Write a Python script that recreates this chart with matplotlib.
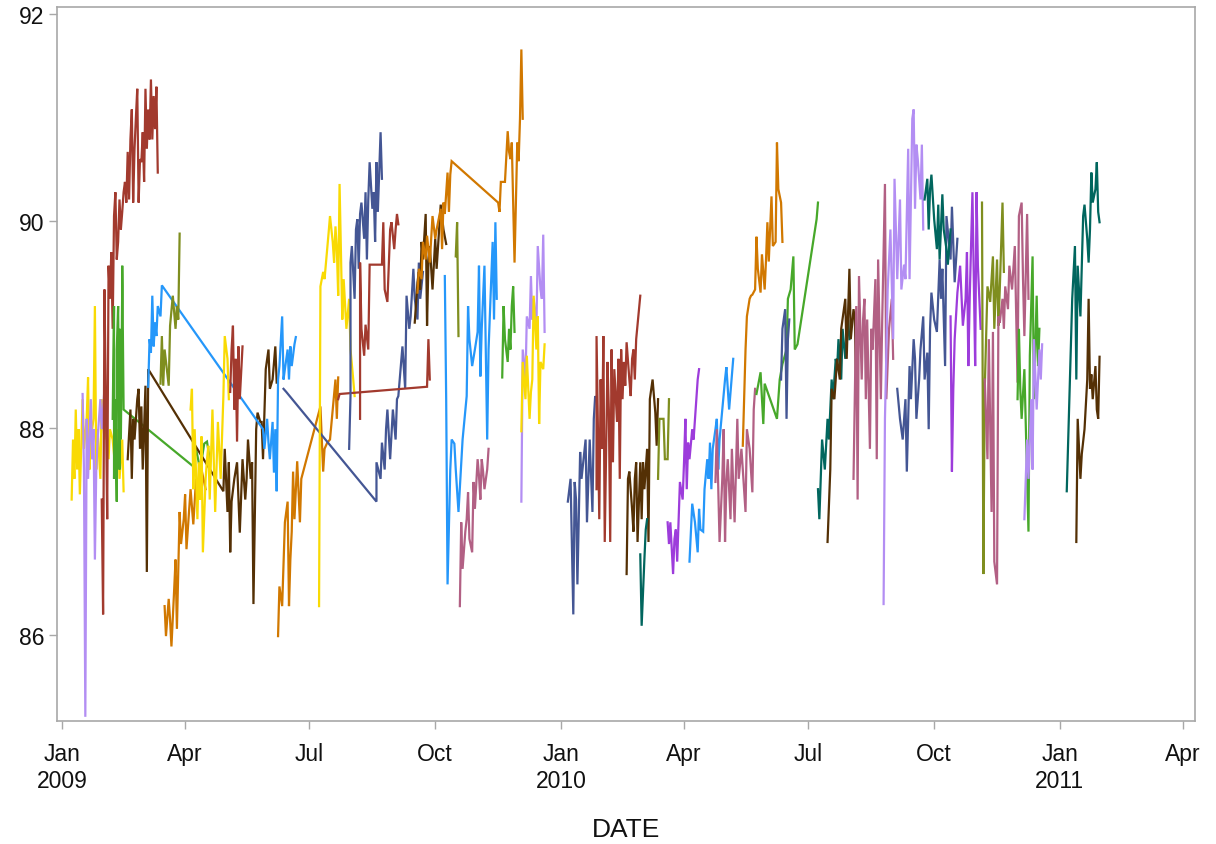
import matplotlib
matplotlib.use('Agg')
import matplotlib.pyplot as plt
import pandas as pd

plt.rcParams['font.family'] = ['Liberation Sans', 'DejaVu Sans']

ORIGIN = pd.Timestamp('2009-01-01')

# ---- palette ----
C = {'slate': '#445694', 'red': '#A23A2E', 'teal': '#01665E', 'brown': '#543005',
     'purple': '#9D3CDB', 'olive': '#7F8E1F', 'blue': '#2597FA', 'pink': '#B26084',
     'orange': '#D17800', 'green': '#47A82A', 'lav': '#B38EF3', 'yellow': '#F9DA04'}

# ---- data: days since 2009-01-01, values ----
yel1_d = [7,8,9,10,11,12,13,15,16,18,19,20,21,23,24,25,26,28,29,31,32,34,35,37,39,41,42,44,45]
yel1_v = [87.31,87.89,87.51,88.18,87.60,87.99,87.36,88.28,87.80,88.09,88.49,87.60,87.89,88.09,89.18,87.60,87.99,87.51,88.28,87.89,88.09,87.70,87.99,87.89,87.60,87.99,87.51,87.89,87.39]
lav1_d = [15,16,17,18,19,20,21,22,23,24,25,26,27,28,29,31]
lav1_v = [88.33,87.60,85.21,88.09,87.51,87.89,88.28,87.70,87.99,86.73,87.60,87.89,88.09,88.28,87.99,88.38]
red1_d = [29,30,31,32,33,34,35,36,37,38,39,40,41,42,43,44,45,46,47,48,49,50,51,52,53,54,55,56,57,58,59,60,61,62,63,64,65,66,67,68,69,70]
red1_v = [87.31,86.20,89.34,88.28,87.12,89.57,89.25,89.70,88.96,90.05,90.28,89.63,89.80,90.21,89.92,90.09,90.28,90.38,90.18,90.67,90.21,90.79,91.08,90.18,90.70,91.00,91.28,90.18,90.60,90.57,90.86,90.38,91.28,90.70,91.08,90.79,91.37,90.79,91.21,90.89,91.30,90.47]
green1_d = [37,38,38,39,40,40,41,42,42,43,44,44,45,96,98,101,104,106,108]
green1_v = [88.09,89.18,87.51,88.28,87.29,88.76,89.18,87.60,88.96,87.89,89.37,89.57,88.18,87.63,87.80,87.60,87.85,87.87,87.70]
brown1_d = [48,50,51,52,53,55,56,57,58,59,61,62,63,118,119,121,122,123,124,126,128,130,132,134,135,136,138,139,140,142,143,145,146,147,149,151,152,154,156,157]
brown1_v = [87.70,88.18,87.51,88.09,87.89,88.28,88.38,87.80,88.21,87.60,88.41,86.61,88.57,87.39,87.80,87.19,87.67,86.80,87.29,87.51,87.67,86.99,87.70,87.31,87.51,87.89,87.51,87.67,86.30,87.99,88.15,88.06,88.06,87.70,88.57,88.76,88.38,88.47,88.79,88.44]
blue1_d = [63,64,65,66,67,68,69,70,72,73,147,148,150,151,152,154,155,156,157,158,159,161,162,163,165,166,167,168,170,171]
blue1_v = [88.40,88.86,88.73,89.28,88.79,89.02,88.89,89.18,89.08,89.38,87.99,87.80,88.09,87.86,87.70,88.06,87.57,87.99,87.39,88.47,88.60,89.08,88.47,88.57,88.76,88.47,88.79,88.60,88.81,88.88]
olive1_d = [72,73,74,75,78,79,81,83,84,85,86]
olive1_v = [88.43,88.89,88.41,88.76,88.41,88.99,89.28,88.96,89.18,89.05,89.88]
orange1_d = [75,76,78,79,80,82,83,84,86,87,89,90,91,93,94,96,98,100,102,105]
orange1_v = [86.28,85.99,86.35,86.15,85.89,86.44,86.73,86.06,87.19,86.88,87.12,87.36,86.83,87.22,87.41,87.07,87.51,87.31,87.60,87.41]
yel2_d = [94,95,96,97,99,100,101,102,103,105,106,107,108,110,112,114,116,118,119,121,122]
yel2_v = [88.18,88.38,87.41,87.99,87.12,87.67,87.31,87.92,86.80,87.51,87.70,87.83,87.31,88.18,87.19,88.06,87.51,88.31,88.89,88.67,88.28]
red2_d = [123,124,125,126,127,128,129,130,132]
red2_v = [88.35,88.76,88.99,88.18,88.67,87.87,88.79,88.28,88.79]
orange2_d = [158,159,161,163,165,166,167,168,169,170,172,174,175,189,191,192,194,196,198,200,201,202]
orange2_v = [85.99,86.47,86.28,87.09,87.29,86.28,86.73,87.00,87.58,87.12,87.68,87.09,87.51,88.21,87.58,87.80,87.86,87.89,88.18,88.47,88.09,88.49]
slate3_d = [162,164,230,230,233,234,236,237,238,240,242,244,245,246,247,249,251,252,254,255,257,258,260,261,262,264]
slate3_v = [88.38,88.35,87.29,87.67,87.51,87.86,87.60,87.99,88.18,87.70,88.18,87.89,88.28,88.31,88.47,88.79,88.38,89.28,88.96,89.08,89.54,89.25,89.05,89.60,89.25,89.51]
yel3_d = [188,189,191,192,195,196,198,199,200,201,202,203,205,206,208,210,211,213,214]
yel3_v = [86.28,89.37,89.51,89.44,89.89,90.05,89.80,89.60,89.95,89.73,89.28,90.36,89.05,89.44,88.96,89.25,88.76,88.47,88.31]
red3_d = [202,203,267,268,269]
red3_v = [88.28,88.33,88.40,88.86,88.47]
slate2_d = [210,211,211,212,214,215,216,217,218,219,221,222,223,224,225,227,228,229,230,231,233,234]
slate2_v = [87.80,88.31,89.60,89.76,89.25,89.92,90.02,89.54,90.07,90.18,89.83,90.28,89.63,90.21,90.57,90.12,90.28,89.80,90.57,90.09,90.86,90.41]
red4_d = [218,218,219,221,222,224,225,234,235,236,238,240,241,243,244,245,246]
red4_v = [88.09,89.60,88.96,88.70,89.00,88.76,89.58,89.58,89.99,89.34,89.22,89.92,89.99,89.73,89.92,90.07,89.97]
brown2_d = [258,260,261,262,263,264,266,267,268,269,271,273,274,277,279,281]
brown2_v = [89.02,89.41,89.51,89.34,89.80,89.63,90.07,88.99,89.60,89.76,89.34,89.83,89.54,90.16,89.92,89.78]
orange3_d = [260,261,263,264,266,267,269,271,273,274,277,278,279,280,282,283,284,285,319,320,321,324,326,327,328,329,330,331,333,334,335,336,337]
orange3_v = [89.31,89.54,89.44,89.80,89.63,89.86,89.60,90.05,89.83,89.92,90.12,89.73,90.18,90.07,90.47,90.09,90.45,90.58,90.18,90.09,90.38,90.38,90.87,90.67,90.60,90.76,90.18,89.60,90.76,90.58,90.99,91.66,90.99]
olive2_d = [288,289,290]
olive2_v = [89.66,89.99,88.89]
blue2_d = [280,281,282,284,285,287,288,290,293,296,297,298,300,302,304,305,306,307,309,311,312,315,316,317,318]
blue2_v = [89.47,88.28,86.49,87.60,87.89,87.85,87.60,87.19,87.89,88.31,89.18,88.86,88.60,88.76,88.93,89.57,88.50,88.96,89.57,87.89,88.76,89.80,89.05,89.99,89.25]
pink1_d = [291,292,293,295,296,297,298,300,301,302,304,305,306,307,308,309,311,312]
pink1_v = [86.28,87.09,86.64,87.00,87.12,87.38,86.93,86.80,87.48,87.22,87.70,87.54,87.31,87.70,87.58,87.41,87.60,87.80]
green2_d = [322,323,324,326,327,328,329,330,331]
green2_v = [88.49,89.18,88.86,88.64,88.96,88.76,89.18,89.37,88.93]
lav2_d = [336,337,339,340,342,343,344,345,347,348,350,351,352,353]
lav2_v = [87.29,88.76,88.47,89.08,88.96,89.47,89.05,89.25,88.96,89.76,89.34,89.25,89.87,88.93]
yel4_d = [336,337,339,340,342,343,344,345,347,348,349,350,352,353]
yel4_v = [87.97,88.64,88.28,88.70,88.09,88.35,88.47,89.28,88.76,89.08,88.04,88.64,88.57,88.81]
slate4_d = [370,372,374,375,376,377,379,380,383,384,386,388,389,390,391]
slate4_v = [87.29,87.51,86.20,87.48,87.31,86.49,87.77,87.51,87.89,87.09,87.89,87.19,88.09,88.31,88.28]
red5_d = [391,391,393,394,395,396,397,399,400,401,402,403,404,406,407,408,409,410,411,412,413,415,416,417,418,419,420,423]
red5_v = [87.41,88.89,87.12,88.47,87.80,88.89,86.90,88.64,88.18,86.90,88.76,87.67,88.57,88.06,88.67,87.51,88.76,88.28,88.64,88.41,88.83,88.47,88.31,88.67,88.76,88.47,88.86,89.28]
brown3_d = [413,414,415,417,418,419,420,421,423,424,425,426,428,429,430,432,434,435,436]
brown3_v = [86.59,87.51,87.58,87.22,87.00,87.51,87.67,86.90,87.67,87.12,87.67,87.41,87.80,86.90,88.28,88.47,88.15,87.83,88.28]
teal1_d = [423,424,426,427,428]
teal1_v = [86.78,86.09,86.73,87.02,87.12]
olive3_d = [436,437,440,441,443,444]
olive3_v = [87.51,88.09,88.09,87.70,87.70,88.28]
purple1_d = [443,444,445,447,448,449,450,452,454,455,456,457,458,459,461,462,465,466]
purple1_v = [87.09,86.88,87.09,86.59,86.93,87.02,86.71,87.48,87.31,87.67,88.09,87.41,87.86,87.70,87.99,87.89,88.47,88.57]
blue3_d = [459,461,463,465,466,467,469,470,472,473,474,475,476,478,479,480,481,483,485,486,488,491]
blue3_v = [86.71,87.27,87.09,86.80,87.22,87.02,87.00,87.41,87.70,87.51,87.86,87.41,87.80,87.99,88.09,87.60,87.89,88.18,88.47,88.59,88.18,88.67]
pink2_d = [478,479,481,483,484,485,486,487,489,490,492,494,495,497,498,500,501,503,505,506,507]
pink2_v = [87.48,87.99,86.90,87.51,87.99,86.90,87.48,87.70,87.12,87.80,87.09,88.09,87.51,87.80,87.60,87.19,87.99,87.80,87.38,88.18,88.38]
orange4_d = [498,500,501,503,504,505,507,508,509,511,512,514,515,516,517,519,520,522,523,524,526,527]
orange4_v = [87.83,88.76,89.08,89.25,89.28,89.29,89.34,89.85,89.54,89.31,89.68,89.34,89.63,89.99,89.61,90.24,89.76,89.80,90.76,90.31,90.18,89.80]
green3_d = [508,511,513,514,523,525,527,530,531,533,535,536,538,552,553]
green3_v = [88.33,88.54,88.04,88.43,88.09,88.47,88.62,88.76,89.25,89.34,89.66,88.76,88.81,90.02,90.18]
slate5_d = [526,527,529,530,531,532]
slate5_v = [88.47,88.96,89.15,88.09,88.86,89.05]
teal2_d = [553,554,556,558,560,561,563,564,566,567,568,570,571,573,575,576]
teal2_v = [87.41,87.12,87.89,87.60,88.09,87.89,88.47,88.28,88.67,88.57,88.86,88.47,88.96,88.67,89.05,88.86]
brown4_d = [560,562,563,565,567,569,570,573,574,576,577,579,580,581]
brown4_v = [86.90,87.60,88.38,88.28,88.67,88.47,88.96,89.25,88.67,89.54,88.86,89.15,89.05,88.28]
pink3_d = [579,581,582,583,585,586,587,588,589,591,592,593,595,596,597,599,600,602,603,605,607,608]
pink3_v = [87.51,89.18,87.31,89.47,88.47,89.05,89.25,88.28,89.05,87.80,88.96,88.76,89.44,87.70,89.63,88.28,89.05,90.36,88.28,88.96,89.25,88.67]
lav3_d = [601,602,604,606,608,609,611,613,614,616,617,619,620,622,623,624,625,626,628,629,630]
lav3_v = [86.30,88.09,89.34,89.92,88.86,90.41,89.44,90.21,89.34,89.58,89.44,90.70,89.44,90.99,91.08,90.12,90.74,90.60,90.21,90.74,89.92]
slate6_d = [611,613,615,617,618,620,621,623,624,625,627,628,630,631,633,634,635,636,638,640,642,643,644,646,647,650,651,653,655]
slate6_v = [88.38,88.09,87.89,88.28,87.58,88.60,88.28,88.86,88.67,88.09,88.47,88.76,89.08,88.47,88.73,87.99,88.96,89.31,89.05,88.93,89.63,89.25,89.54,88.60,90.05,89.63,90.14,89.41,89.83]
teal3_d = [631,633,634,635,636,638,640,641,642,644,645,647,648,650]
teal3_v = [90.21,90.41,89.92,90.31,90.45,90.02,89.73,90.16,89.63,90.26,89.92,89.73,89.58,89.92]
purple2_d = [650,651,652,653,655,657,659,661,662,663,664,666,667,668,669,670,672]
purple2_v = [89.08,87.58,88.38,88.86,89.31,89.57,88.99,89.25,89.70,88.60,89.25,90.28,89.44,88.60,90.28,89.57,88.96]
olive4_d = [673,674,675,677,679,681,682,684,685,686,688,689]
olive4_v = [90.18,86.59,88.38,89.37,89.22,89.66,88.96,89.63,88.99,89.34,90.18,89.51]
pink4_d = [675,677,678,680,681,682,684,685,686,688,689,690,692,693,695,697,699,700,702,703,704,706,707]
pink4_v = [88.47,87.70,88.86,87.19,88.93,86.71,86.49,89.08,89.02,89.25,88.96,89.37,89.15,89.57,89.34,89.76,88.44,90.05,90.18,89.44,88.89,90.07,89.25]
green4_d = [699,700,701,702,704,707,708,710,711,713,714,715]
green4_v = [88.28,88.96,88.38,88.09,88.57,87.00,88.70,89.66,88.28,89.28,88.60,88.96]
lav4_d = [704,706,707,709,710,711,713,715,716,717]
lav4_v = [87.12,87.89,87.51,88.28,87.60,88.86,88.18,88.76,88.47,88.81]
teal4_d = [735,739,741,742,743,745,747,748,750,751,752,753,754,756,757,758,759]
teal4_v = [87.39,89.25,89.76,88.47,89.57,89.08,90.05,90.16,89.83,89.60,89.92,90.47,90.18,90.31,90.57,90.09,89.99]
brown5_d = [742,743,745,746,748,750,751,752,753,754,756,757,758,759]
brown5_v = [86.90,88.09,87.51,87.75,87.99,88.47,89.25,88.38,88.52,88.28,88.60,88.18,88.09,88.69]

series = [
    (yel1_d, yel1_v, 'yellow'), (lav1_d, lav1_v, 'lav'), (red1_d, red1_v, 'red'),
    (green1_d, green1_v, 'green'), (brown1_d, brown1_v, 'brown'), (blue1_d, blue1_v, 'blue'),
    (olive1_d, olive1_v, 'olive'), (orange1_d, orange1_v, 'orange'), (yel2_d, yel2_v, 'yellow'),
    (red2_d, red2_v, 'red'), (orange2_d, orange2_v, 'orange'), (slate3_d, slate3_v, 'slate'),
    (yel3_d, yel3_v, 'yellow'), (red3_d, red3_v, 'red'), (slate2_d, slate2_v, 'slate'),
    (red4_d, red4_v, 'red'), (brown2_d, brown2_v, 'brown'), (orange3_d, orange3_v, 'orange'),
    (olive2_d, olive2_v, 'olive'), (blue2_d, blue2_v, 'blue'), (pink1_d, pink1_v, 'pink'),
    (green2_d, green2_v, 'green'), (lav2_d, lav2_v, 'lav'), (yel4_d, yel4_v, 'yellow'),
    (slate4_d, slate4_v, 'slate'), (red5_d, red5_v, 'red'), (brown3_d, brown3_v, 'brown'),
    (teal1_d, teal1_v, 'teal'), (olive3_d, olive3_v, 'olive'), (purple1_d, purple1_v, 'purple'),
    (blue3_d, blue3_v, 'blue'), (pink2_d, pink2_v, 'pink'), (orange4_d, orange4_v, 'orange'),
    (green3_d, green3_v, 'green'), (slate5_d, slate5_v, 'slate'), (teal2_d, teal2_v, 'teal'),
    (brown4_d, brown4_v, 'brown'), (pink3_d, pink3_v, 'pink'), (lav3_d, lav3_v, 'lav'),
    (slate6_d, slate6_v, 'slate'), (teal3_d, teal3_v, 'teal'), (purple2_d, purple2_v, 'purple'),
    (olive4_d, olive4_v, 'olive'), (pink4_d, pink4_v, 'pink'), (green4_d, green4_v, 'green'),
    (lav4_d, lav4_v, 'lav'), (teal4_d, teal4_v, 'teal'), (brown5_d, brown5_v, 'brown'),
]

tick_dates = ['2009-01-01', '2009-04-01', '2009-07-01', '2009-10-01', '2010-01-01',
              '2010-04-01', '2010-07-01', '2010-10-01', '2011-01-01', '2011-04-01']
tick_labels = ['Jan\n2009', 'Apr', 'Jul', 'Oct', 'Jan\n2010', 'Apr', 'Jul', 'Oct', 'Jan\n2011', 'Apr']
y_ticks = [86, 88, 90, 92]

fig = plt.figure(figsize=(12.16, 8.45), dpi=100)
ax = fig.add_axes([0.0469, 0.1456, 0.9358, 0.8449])

for d, v, c in series:
    dates = ORIGIN + pd.to_timedelta(d, unit='D')
    ax.plot(dates, v, color=C[c], lw=1.6, solid_joinstyle='miter')

ax.set_xlim(ORIGIN - pd.Timedelta(days=3.7), ORIGIN + pd.Timedelta(days=828.8))
ax.set_ylim(85.17, 92.07)
ax.set_xticks(pd.to_datetime(tick_dates))
ax.set_xticklabels(tick_labels, linespacing=1.25)
ax.set_yticks(y_ticks)
ax.set_yticklabels([str(t) for t in y_ticks])

for s in ax.spines.values():
    s.set_color('#A8A8A8')
    s.set_linewidth(1.2)
ax.tick_params(axis='both', direction='out', length=6, width=1, color='#A8A8A8',
               labelsize=16.5, labelcolor='#111111')
ax.tick_params(axis='x', pad=9)
ax.tick_params(axis='y', pad=3)
ax.set_xlabel('DATE', fontsize=19, color='#111111', labelpad=18)

fig.savefig('out.png', dpi=100)
